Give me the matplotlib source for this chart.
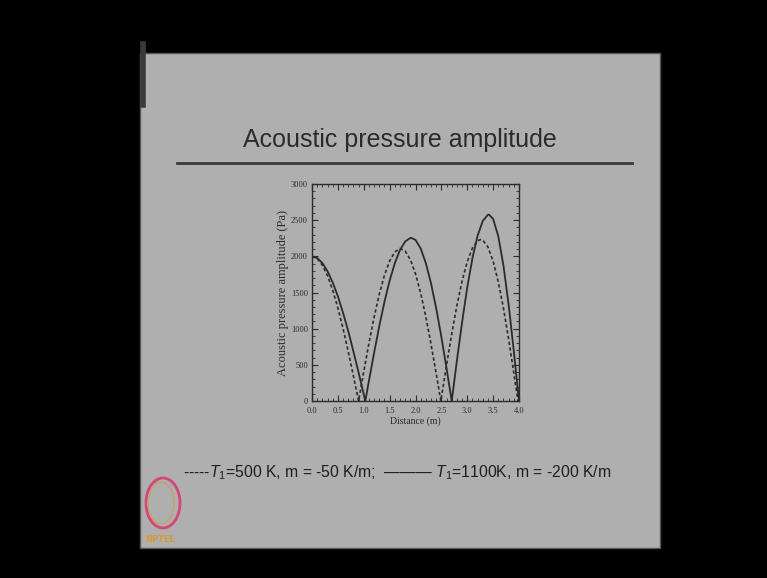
import matplotlib
matplotlib.use("Agg")
import matplotlib.pyplot as plt
from matplotlib.patches import Rectangle, Ellipse
from matplotlib.lines import Line2D

# dashed curve: T1 = 500 K, m = -50 K/m
x_dash = [0.0, 0.1, 0.2, 0.3, 0.4, 0.5, 0.6, 0.7, 0.8, 0.9,
          1.0, 1.1, 1.2, 1.3, 1.4, 1.5, 1.6, 1.7, 1.8, 1.9,
          2.0, 2.1, 2.2, 2.3, 2.4, 2.49, 2.6, 2.7, 2.8, 2.9,
          3.0, 3.1, 3.2, 3.26, 3.3, 3.4, 3.5, 3.6, 3.7, 3.8, 3.9, 3.98]
y_dash = [2000, 1970, 1879, 1732, 1532, 1286, 1000, 684, 347, 0,
          406, 797, 1158, 1477, 1739, 1936, 2060, 2108, 2073, 1956,
          1759, 1491, 1163, 786, 380, 0, 497, 927, 1319, 1657,
          1925, 2114, 2215, 2232, 2224, 2129, 1933, 1646, 1280, 854, 388, 0]

# solid curve: T1 = 1100 K, m = -200 K/m
x_solid = [0.0, 0.1, 0.2, 0.3, 0.4, 0.5, 0.6, 0.7, 0.8, 0.9, 1.0, 1.03,
           1.1, 1.2, 1.3, 1.4, 1.5, 1.6, 1.7, 1.8, 1.9, 1.92,
           2.0, 2.1, 2.2, 2.3, 2.4, 2.5, 2.6, 2.7,
           2.8, 2.9, 3.0, 3.1, 3.2, 3.3, 3.4, 3.42,
           3.5, 3.6, 3.7, 3.8, 3.9, 4.0]
y_solid = [2000, 1977, 1908, 1794, 1639, 1447, 1219, 968, 686, 394, 91, 0,
           278, 666, 1035, 1370, 1663, 1904, 2087, 2205, 2254, 2255,
           2226, 2109, 1905, 1626, 1281, 886, 451, 0,
           558, 1089, 1569, 1974, 2285, 2489, 2575, 2577,
           2517, 2277, 1871, 1328, 689, 0]

xticks = [0.0, 0.5, 1.0, 1.5, 2.0, 2.5, 3.0, 3.5, 4.0]
yticks = [0, 500, 1000, 1500, 2000, 2500, 3000]

slide_col = "#afafaf"
ink = "#2b2b2b"

plt.rcParams["mathtext.fontset"] = "custom"
plt.rcParams["mathtext.it"] = "Liberation Sans:italic"
plt.rcParams["mathtext.rm"] = "Liberation Sans"

W, H = 767, 578
fig = plt.figure(figsize=(W / 100, H / 100), dpi=100)
fig.patch.set_facecolor("black")

def fx(px):
    return px / W

def fy(py):
    return 1 - py / H

# the slide itself, kept behind the axes
fig.patches.append(Rectangle((fx(140), fy(548)), fx(660) - fx(140), fy(53) - fy(548),
                             transform=fig.transFigure, facecolor=slide_col,
                             edgecolor="#555555", lw=1, zorder=-5))
fig.lines.append(Line2D([fx(143), fx(143)], [fy(44), fy(105)], transform=fig.transFigure,
                        color="#3a3a3a", lw=4, zorder=-4))

# title and rule
fig.text(fx(400), fy(140), "Acoustic pressure amplitude", ha="center", va="center",
         fontsize=18, color=ink, family="Liberation Sans")
fig.lines.append(Line2D([fx(177), fx(632)], [fy(163), fy(163)], transform=fig.transFigure,
                        color="#3a3a3a", lw=2, zorder=-4))

# the plot
ax = fig.add_axes([fx(312), fy(401), fx(519) - fx(312), fy(184) - fy(401)])
ax.set_facecolor("none")
ax.plot(x_dash, y_dash, color=ink, lw=1.2, ls=(0, (2.0, 1.5)))
ax.plot(x_solid, y_solid, color=ink, lw=1.3)
ax.set_xlim(0, 4)
ax.set_ylim(0, 3000)
ax.set_xticks(xticks)
ax.set_xticklabels(["%.1f" % t for t in xticks])
ax.set_yticks(yticks)
ax.minorticks_on()
ax.tick_params(which="both", direction="in", top=True, right=True, colors=ink,
               labelsize=6)
ax.tick_params(axis="x", pad=4)
ax.tick_params(axis="y", pad=3)
ax.tick_params(which="major", length=4)
ax.tick_params(which="minor", length=2)
for lab in ax.get_xticklabels() + ax.get_yticklabels():
    lab.set_family("Liberation Serif")
for s in ax.spines.values():
    s.set_color(ink)
    s.set_linewidth(1.0)
ax.set_xlabel("Distance (m)", fontsize=7, family="Liberation Serif", color=ink, labelpad=1)
ax.set_ylabel("Acoustic pressure amplitude (Pa)", fontsize=9, family="Liberation Serif",
              color=ink, labelpad=1)

# legend line at the bottom
fig.text(fx(183), fy(473), r"-----$T_1$=500 K, m = -50 K/m;  ——— $T_1$=1100K, m = -200 K/m",
         ha="left", va="center", fontsize=11.3, color="#1e1e1e", family="Liberation Sans")

# logo in the corner
fig.patches.append(Ellipse((fx(163), fy(503)), fx(34), fy(0) - fy(50), transform=fig.transFigure,
                           facecolor="none", edgecolor="#d4467a", lw=2))
fig.patches.append(Ellipse((fx(161), fy(503)), fx(26), fy(0) - fy(42), transform=fig.transFigure,
                           facecolor="none", edgecolor="#c8a060", lw=1))
fig.text(fx(160), fy(539), "NPTEL", ha="center", va="center", fontsize=6,
         color="#d89a30", weight="bold")

fig.savefig("out.png", dpi=100, facecolor=fig.get_facecolor())
